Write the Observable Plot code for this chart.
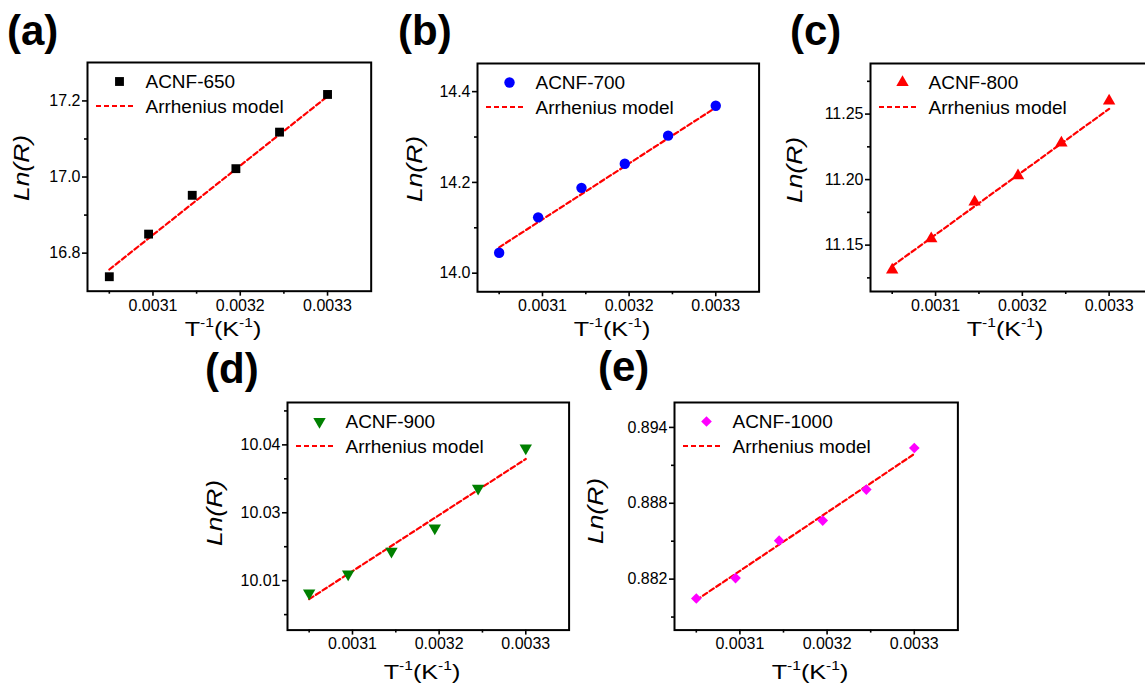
<!DOCTYPE html>
<html><head><meta charset="utf-8">
<script src="https://cdn.jsdelivr.net/npm/d3@7"></script>
<script src="https://cdn.jsdelivr.net/npm/@observablehq/plot@0.6"></script>
<style>
html,body{margin:0;padding:0;background:#fff;overflow:hidden;width:1145px;height:691px}
#fig{position:relative;width:1145px;height:691px;font-family:"Liberation Sans",Arial,sans-serif;color:#000}
.panel{position:absolute}
.letter{position:absolute;font-weight:bold;font-size:42px;line-height:1}
.ylab{position:absolute;font-size:22px;font-style:italic;transform:translate(-50%,-50%) rotate(-90deg) scaleX(1.2);white-space:nowrap;line-height:1}
.xlab{position:absolute;font-size:21px;transform:translate(-50%,-50%) scaleX(1.2);white-space:nowrap;line-height:1}
.xlab sup{font-size:13px;vertical-align:baseline;position:relative;top:-0.7em}
</style></head>
<body><div id="fig"></div>
<script>
// ---- data ----
const invT = [0.00305, 0.003095, 0.003145, 0.003195, 0.003245, 0.0033];
const lnR650  = [16.738, 16.850, 16.952, 17.022, 17.118, 17.217];
const lnR700  = [14.045, 14.123, 14.188, 14.241, 14.303, 14.369];
const lnR800  = [11.131, 11.155, 11.183, 11.203, 11.228, 11.260];
const lnR900  = [10.0102, 10.0137, 10.0179, 10.0222, 10.0295, 10.0369];
const lnR1000 = [0.88047, 0.88208, 0.88504, 0.88663, 0.88908, 0.89237];

const fitX = [0.00305, 0.0033];
const fit650  = [16.757, 17.212];
const fit700  = [14.057, 14.365];
const fit800  = [11.134, 11.254];
const fit900  = [10.0091, 10.0349];
const fit1000 = [0.88034, 0.8919];

const seriesNames = ["ACNF-650", "ACNF-700", "ACNF-800", "ACNF-900", "ACNF-1000"];
const modelName = "Arrhenius model";
const panelLetters = ["(a)", "(b)", "(c)", "(d)", "(e)"];

const xTicks = [0.0031, 0.0032, 0.0033];
const xTickLabels = ["0.0031", "0.0032", "0.0033"];
const xMinor = [0.00305, 0.00315, 0.00325];

const yTicks650 = [16.8, 17.0, 17.2];      const yLabels650 = ["16.8", "17.0", "17.2"];      const yMinor650 = [16.9, 17.1];
const yTicks700 = [14.0, 14.2, 14.4];      const yLabels700 = ["14.0", "14.2", "14.4"];      const yMinor700 = [14.1, 14.3];
const yTicks800 = [11.15, 11.20, 11.25];   const yLabels800 = ["11.15", "11.20", "11.25"];   const yMinor800 = [11.125, 11.175, 11.225, 11.275];
const yTicks900 = [10.0125, 10.025, 10.0375]; const yLabels900 = ["10.01", "10.03", "10.04"]; const yMinor900 = [10.00625, 10.01875, 10.03125, 10.04375];
const yTicks1000 = [0.882, 0.888, 0.894];  const yLabels1000 = ["0.882", "0.888", "0.894"];  const yMinor1000 = [0.879, 0.885, 0.891];

// ---- layout / styles ----
const xDomain = [0.003025, 0.00335];
const panels = [
  {box:[87.3, 62.3, 371, 291], y:lnR650, fit:fit650, yDom:[16.7, 17.301], yt:yTicks650, yl:yLabels650, ym:yMinor650,
   sym:"square", color:"#000000", r:5, rot:0, letter:[7,10], ylabDx:-65, ylabDy:-9, xlabDy:37},
  {box:[476.7, 62.7, 758.3, 291], y:lnR700, fit:fit700, yDom:[13.959, 14.462], yt:yTicks700, yl:yLabels700, ym:yMinor700,
   sym:"circle", color:"#0000ff", r:5.2, rot:0, letter:[398,10], ylabDx:-62, ylabDy:-8, xlabDy:37},
  {box:[870, 62.7, 1152, 290.7], y:lnR800, fit:fit800, yDom:[11.1146, 11.2886], yt:yTicks800, yl:yLabels800, ym:yMinor800,
   sym:"triangle", color:"#ff0000", r:4.6, rot:0, letter:[790,10], ylabDx:-75, ylabDy:-7, xlabDy:37},
  {box:[286.7, 401.7, 568.3, 629.3], y:lnR900, fit:fit900, yDom:[10.0034, 10.0453], yt:yTicks900, yl:yLabels900, ym:yMinor900,
   sym:"triangle", color:"#008000", r:4.6, rot:180, letter:[205,348], ylabDx:-72, ylabDy:-3, xlabDy:42},
  {box:[674.3, 401.7, 957.7, 629.3], y:lnR1000, fit:fit1000, yDom:[0.87797, 0.89597], yt:yTicks1000, yl:yLabels1000, ym:yMinor1000,
   sym:"diamond2", color:"#ff00ff", r:4.8, rot:0, letter:[598,346], ylabDx:-78, ylabDy:-5, xlabDy:42}
];

const fig = document.getElementById("fig");
const ML = 80, MT = 10, MR = 10, MB = 40;

panels.forEach((p, i) => {
  const [x0, y0, x1, y1] = p.box;
  const w = x1 - x0, h = y1 - y0;
  const pts = invT.map((t, k) => ({x: t, y: p.y[k]}));
  const fitPts = fitX.map((t, k) => ({x: t, y: p.fit[k]}));
  const lab = (ticks, labels) => d => labels[ticks.indexOf(d)] ?? "";
  const svg = Plot.plot({
    width: w + ML + MR, height: h + MT + MB,
    marginLeft: ML, marginTop: MT, marginRight: MR, marginBottom: MB,
    x: {domain: xDomain}, y: {domain: p.yDom},
    style: {fontFamily: "'Liberation Sans', Arial, sans-serif", fontSize: "16px", color: "#000", background: "transparent", overflow: "visible"},
    marks: [
      Plot.axisX({ticks: xTicks, tickFormat: lab(xTicks, xTickLabels), label: null, tickSize: 5, tickPadding: 3, strokeWidth: 1.6, fontSize: 16}),
      Plot.axisX({ticks: xMinor, tickFormat: () => "", label: null, tickSize: 3, strokeWidth: 1.6}),
      Plot.axisY({ticks: p.yt, tickFormat: lab(p.yt, p.yl), label: null, tickSize: 5, tickPadding: 2, strokeWidth: 1.6, fontSize: 16}),
      Plot.axisY({ticks: p.ym, tickFormat: () => "", label: null, tickSize: 3, strokeWidth: 1.6}),
      Plot.line(fitPts, {x: "x", y: "y", stroke: "#ff0000", strokeWidth: 2.2, strokeDasharray: "5,3"}),
      Plot.dot(pts, {x: "x", y: "y", symbol: p.sym, fill: p.color, stroke: "none", r: p.r, rotate: p.rot}),
      Plot.frame({stroke: "#000", strokeWidth: 2}),
      // legend
      Plot.dot([seriesNames[i]], {frameAnchor: "top-left", dx: 32, dy: 19, symbol: p.sym, fill: p.color, stroke: "none", r: p.r, rotate: p.rot}),
      Plot.text([seriesNames[i]], {frameAnchor: "top-left", dx: 58, dy: 19, text: d => d, textAnchor: "start", lineAnchor: "middle", fontSize: 19, fill: "#000"}),
      Plot.text([modelName], {frameAnchor: "top-left", dx: 58, dy: 44, text: d => d, textAnchor: "start", lineAnchor: "middle", fontSize: 19, fill: "#000"})
    ]
  });
  // legend dashed line sample
  d3.select(svg).append("line")
    .attr("x1", ML + 9).attr("x2", ML + 49).attr("y1", MT + 44).attr("y2", MT + 44)
    .attr("stroke", "#ff0000").attr("stroke-width", 2.2).attr("stroke-dasharray", "5,3");
  svg.classList.add("panel");
  svg.style.left = (x0 - ML) + "px";
  svg.style.top = (y0 - MT) + "px";
  fig.appendChild(svg);

  const L = document.createElement("div");
  L.className = "letter"; L.textContent = panelLetters[i];
  L.style.left = p.letter[0] + "px"; L.style.top = p.letter[1] + "px";
  fig.appendChild(L);

  const yl = document.createElement("div");
  yl.className = "ylab"; yl.innerHTML = "Ln(R)";
  yl.style.left = (x0 + p.ylabDx) + "px"; yl.style.top = ((y0 + y1) / 2 + p.ylabDy) + "px";
  fig.appendChild(yl);

  const xl = document.createElement("div");
  xl.className = "xlab"; xl.innerHTML = "T<sup>-1</sup>(K<sup>-1</sup>)";
  xl.style.left = ((x0 + x1) / 2 - 6) + "px"; xl.style.top = (y1 + p.xlabDy) + "px";
  fig.appendChild(xl);
});
</script></body></html>
